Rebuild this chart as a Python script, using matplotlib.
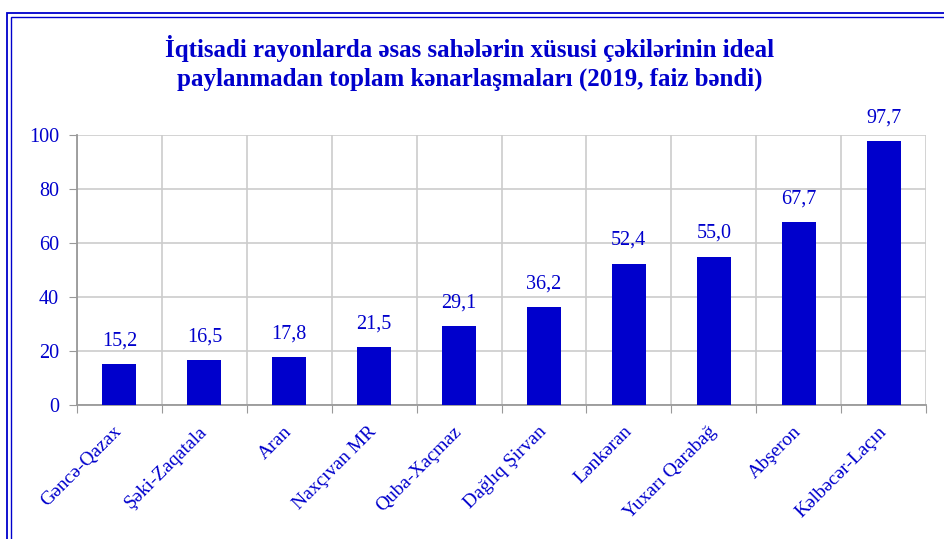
import matplotlib
matplotlib.use("Agg")
import matplotlib.pyplot as plt
from matplotlib.patches import Rectangle
from matplotlib.transforms import ScaledTranslation

categories = ["Gəncə-Qazax", "Şəki-Zaqatala", "Aran", "Naxçıvan MR", "Quba-Xaçmaz",
              "Dağlıq Şirvan", "Lənkəran", "Yuxarı Qarabağ", "Abşeron", "Kəlbəcər-Laçın"]
values = [15.2, 16.5, 17.8, 21.5, 29.1, 36.2, 52.4, 55.0, 67.7, 97.7]
yticks = [0, 20, 40, 60, 80, 100]
title = "İqtisadi rayonlarda əsas sahələrin xüsusi çəkilərinin ideal\npaylanmadan toplam kənarlaşmaları (2019, faiz bəndi)"

blue = "#0000CC"
txt = "#0000CC"
plt.rcParams['font.family'] = ['Liberation Serif', 'DejaVu Serif']

fig = plt.figure(figsize=(9.44, 5.39), dpi=100)
ax = fig.add_axes([77/944, 1-405/539, (926-77)/944, 270/539])

x = list(range(len(categories)))
ax.bar(x, values, width=0.4, color=blue, zorder=3)
ax.set_xlim(-0.5, len(categories)-0.5)
ax.set_ylim(0, 100)
ax.set_yticks(yticks)
ax.set_yticklabels([str(t) for t in yticks], color=txt, fontsize=14.5)
ax.set_xticks([i - 0.5 for i in range(len(categories)+1)])
ax.set_xticklabels([])
ax.set_xticks(x, minor=True)
ax.set_xticklabels(categories, minor=True, rotation=45, ha='right', va='top',
                   rotation_mode='anchor', color=txt, fontsize=14)
ax.tick_params(axis='x', which='minor', length=0, pad=13)
ax.tick_params(axis='x', which='major', length=6, color='#999999', direction='out')
ax.tick_params(axis='y', length=6, color='#999999', pad=7)
shift = ScaledTranslation(-6/100, 0, fig.dpi_scale_trans)
for lab in ax.get_xticklabels(minor=True):
    lab.set_transform(lab.get_transform() + shift)
ax.grid(True, which='major', color='#cccccc', linewidth=1.2, zorder=0)
for s in ['top', 'right']:
    ax.spines[s].set_visible(False)
for s in ['left', 'bottom']:
    ax.spines[s].set_color('#999999')
    ax.spines[s].set_linewidth(1.3)

for xi, v in zip(x, values):
    ax.annotate(f"{v:.1f}".replace('.', ','), (xi, v), xytext=(0, 10), textcoords='offset points',
                ha='center', va='bottom', color=txt, fontsize=14.5, clip_on=False)

fig.text(470/944, 1-63/539, title, ha='center', va='center', color=txt,
         fontsize=18, fontweight='bold', linespacing=1.3)

# double border
fig.add_artist(Rectangle((7/944, -0.1), 1.2, 1 - 13/539 + 0.1, transform=fig.transFigure,
                         fill=False, edgecolor=blue, linewidth=1.3))
fig.add_artist(Rectangle((10.5/944, -0.1), 1.2, 1 - 16.5/539 + 0.1, transform=fig.transFigure,
                         fill=False, edgecolor=blue, linewidth=1.0))

fig.savefig("out.png", dpi=100)
